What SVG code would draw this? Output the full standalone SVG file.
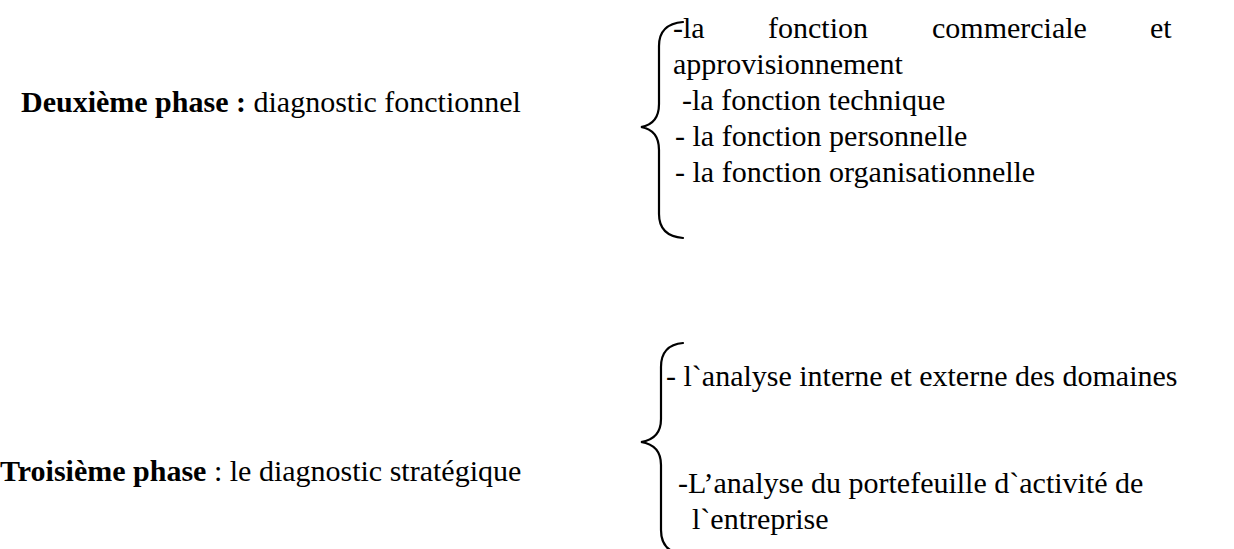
<svg xmlns="http://www.w3.org/2000/svg" width="1234" height="549" viewBox="0 0 1234 549">
  <style>
    text { font-family: "Liberation Serif", "Times New Roman", serif; font-size: 30px; fill: #000; }
    .b { font-weight: bold; }
    .brace { fill: none; stroke: #000; stroke-width: 2.2; stroke-linecap: round; }
  </style>
  <rect width="1234" height="549" fill="#fff"/>

  <!-- phase 2: functional diagnosis -->
  <g id="phase2">
    <text x="21" y="112"><tspan class="b">Deuxième phase :</tspan> diagnostic fonctionnel</text>
  </g>
  <g id="phase2-items">
    <!-- justified first line: words spread evenly up to the right margin -->
    <text x="673" y="38">-la</text>
    <text x="768" y="38">fonction</text>
    <text x="932" y="38">commerciale</text>
    <text x="1150" y="38">et</text>
    <text x="673" y="74">approvisionnement</text>
    <text x="682" y="110">-la fonction technique</text>
    <text x="675" y="146">- la fonction personnelle</text>
    <text x="675" y="182">- la fonction organisationnelle</text>
  </g>

  <!-- phase 3: strategic diagnosis -->
  <g id="phase3">
    <text x="0" y="481"><tspan class="b">Troisième phase</tspan> : le diagnostic stratégique</text>
  </g>
  <g id="phase3-items">
    <text x="666" y="386">- l`analyse interne et externe des domaines</text>
    <text x="678" y="493">-L’analyse du portefeuille d`activité de</text>
    <text x="692" y="529">l`entreprise</text>
  </g>

  <!-- curly braces -->
  <g id="connectors">
    <path class="brace" d="M683,22 Q659,24 659,46 L659,104 Q659,124 641,127 Q659,130 659,150 L659,214 Q659,236 683,238"/>
    <path class="brace" d="M683,343 Q661,345 661,367 L661,419 Q661,439 641,442 Q661,445 661,465 L661,530 Q661,552 683,554"/>
  </g>
</svg>
